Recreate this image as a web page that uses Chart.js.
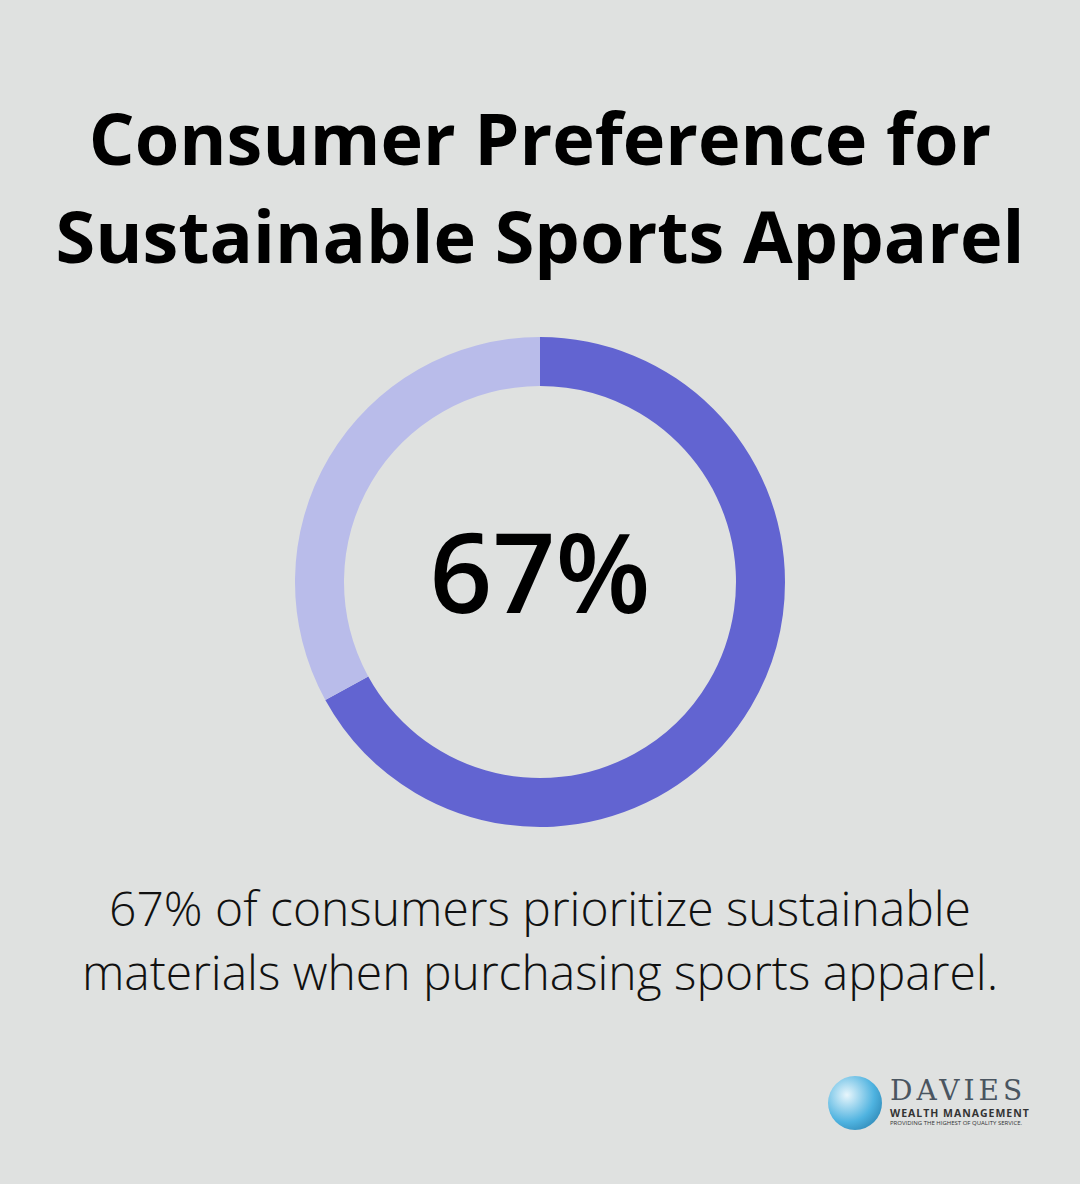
<!DOCTYPE html>
<html><head><meta charset="utf-8">
<script src="https://cdn.jsdelivr.net/npm/chart.js@4.4.0/dist/chart.umd.min.js"></script>
<style>
html,body{margin:0;padding:0;background:#dfe1e0;width:1080px;height:1184px;overflow:hidden;font-family:"Open Sans",sans-serif;}
#title{position:absolute;top:88px;left:0;width:1080px;text-align:center;font-weight:700;font-size:72px;line-height:98px;color:#000;}
#wrap{position:absolute;left:290px;top:332px;width:500px;height:500px;}
#center{position:absolute;left:0;width:1080px;top:505px;text-align:center;font-size:110px;font-weight:600;color:#000;line-height:130px;}
#sub{position:absolute;top:876px;left:0;width:1080px;text-align:center;font-weight:300;font-size:48px;line-height:64px;color:#111;}
#logo{position:absolute;left:826px;top:1074px;width:210px;height:60px;}
</style></head><body>
<div id="title">Consumer Preference for<br>Sustainable Sports Apparel</div>
<div id="wrap"><canvas id="c" width="500" height="500"></canvas></div>
<div id="center">67%</div>
<div id="sub">67% of consumers prioritize sustainable<br>materials when purchasing sports apparel.</div>
<div id="logo">
<div style="position:absolute;left:2px;top:2px;width:54px;height:54px;border-radius:50%;background:radial-gradient(circle at 35% 35%,#e8f6fc,#4fb3e0 55%,#1c6f9e);"></div>
<div style="position:absolute;left:64px;top:2px;font-family:'DejaVu Serif',serif;font-size:28px;letter-spacing:4px;color:#4a5560;line-height:30px;">DAVIES</div>
<div style="position:absolute;left:64px;top:32px;font-size:10.5px;font-weight:700;letter-spacing:1px;color:#333;">WEALTH MANAGEMENT</div>
<div style="position:absolute;left:64px;top:45px;font-size:6px;color:#333;white-space:nowrap;">PROVIDING THE HIGHEST OF QUALITY SERVICE.</div>
</div>
<script>
const labels=["Prioritize sustainable","Other"];
const values=[67,33];
const colors=["#6264d1","#b9bcea"];
new Chart(document.getElementById('c'),{type:'doughnut',
data:{labels:labels,datasets:[{data:values,backgroundColor:colors,borderWidth:0}]},
options:{responsive:false,animation:false,cutout:'80%',radius:245,
plugins:{legend:{display:false},tooltip:{enabled:false}},layout:{padding:0}}});
</script>
</body></html>
